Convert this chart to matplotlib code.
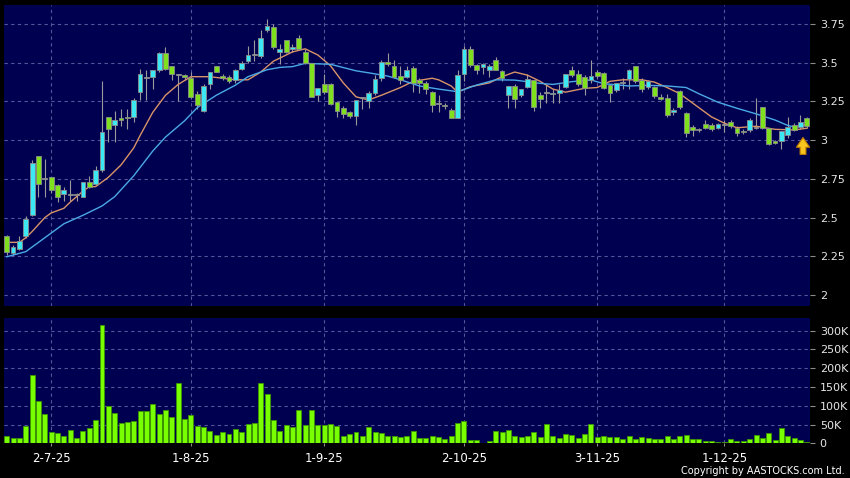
import matplotlib
matplotlib.use("Agg")
import matplotlib.pyplot as plt
import numpy as np
from matplotlib.ticker import FuncFormatter

# daily OHLC (one entry per trading day)
opens = [2.38, 2.27, 2.30, 2.38, 2.515, 2.90, 2.75, 2.76, 2.71, 2.65,
         2.645, 2.645, 2.635, 2.73, 2.72, 2.81, 3.15, 3.10, 3.14, 3.15,
         3.15, 3.31, 3.40, 3.41, 3.45, 3.56, 3.48, 3.42, 3.42, 3.40,
         3.30, 3.19, 3.36, 3.48, 3.415, 3.41, 3.39, 3.46, 3.51, 3.55,
         3.545, 3.71, 3.73, 3.57, 3.65, 3.59, 3.66, 3.57, 3.50, 3.29,
         3.36, 3.36, 3.245, 3.21, 3.18, 3.153, 3.27, 3.25, 3.306, 3.40,
         3.504, 3.48, 3.414, 3.41, 3.468, 3.39, 3.37, 3.31, 3.235, 3.228,
         3.196, 3.142, 3.43, 3.59, 3.483, 3.475, 3.455, 3.52, 3.446, 3.29,
         3.347, 3.29, 3.343, 3.386, 3.29, 3.304, 3.30, 3.304, 3.343, 3.455,
         3.43, 3.405, 3.389, 3.44, 3.435, 3.355, 3.322, 3.37, 3.397, 3.479,
         3.39, 3.345, 3.346, 3.28, 3.27, 3.184, 3.32, 3.178, 3.083, 3.066,
         3.103, 3.10, 3.081, 3.10, 3.116, 3.081, 3.062, 3.066, 3.08, 3.212,
         3.077, 2.995, 2.995, 3.034, 3.099, 3.084, 3.142]
highs = [2.39, 2.32, 2.38, 2.51, 2.87, 2.90, 2.88, 2.76, 2.72, 2.70,
         2.74, 2.66, 2.73, 2.77, 2.83, 3.38, 3.15, 3.19, 3.20, 3.20,
         3.27, 3.46, 3.45, 3.45, 3.57, 3.60, 3.48, 3.43, 3.43, 3.44,
         3.32, 3.36, 3.44, 3.48, 3.43, 3.42, 3.46, 3.51, 3.61, 3.65,
         3.71, 3.78, 3.75, 3.62, 3.65, 3.62, 3.68, 3.59, 3.50, 3.34,
         3.43, 3.37, 3.25, 3.22, 3.19, 3.26, 3.28, 3.32, 3.42, 3.515,
         3.56, 3.52, 3.48, 3.48, 3.48, 3.40, 3.38, 3.32, 3.29, 3.24,
         3.21, 3.45, 3.61, 3.61, 3.49, 3.50, 3.49, 3.54, 3.45, 3.35,
         3.36, 3.33, 3.43, 3.39, 3.31, 3.36, 3.33, 3.36, 3.43, 3.48,
         3.45, 3.42, 3.517, 3.45, 3.44, 3.36, 3.37, 3.40, 3.46, 3.48,
         3.40, 3.39, 3.35, 3.30, 3.30, 3.21, 3.325, 3.18, 3.10, 3.08,
         3.13, 3.11, 3.11, 3.13, 3.13, 3.09, 3.07, 3.14, 3.27, 3.215,
         3.08, 3.00, 3.06, 3.152, 3.11, 3.163, 3.15]
lows = [2.26, 2.26, 2.29, 2.37, 2.51, 2.63, 2.63, 2.66, 2.60, 2.61,
        2.61, 2.61, 2.63, 2.69, 2.71, 2.795, 2.99, 2.99, 3.09, 3.07,
        3.12, 3.26, 3.26, 3.33, 3.44, 3.45, 3.39, 3.25, 3.39, 3.27,
        3.20, 3.18, 3.33, 3.44, 3.39, 3.37, 3.37, 3.45, 3.50, 3.51,
        3.53, 3.70, 3.59, 3.49, 3.56, 3.57, 3.58, 3.49, 3.28, 3.25,
        3.30, 3.23, 3.15, 3.14, 3.14, 3.10, 3.20, 3.21, 3.29, 3.385,
        3.48, 3.40, 3.36, 3.40, 3.31, 3.306, 3.30, 3.18, 3.18, 3.20,
        3.14, 3.14, 3.38, 3.47, 3.43, 3.43, 3.41, 3.45, 3.38, 3.21,
        3.21, 3.28, 3.34, 3.19, 3.21, 3.24, 3.24, 3.24, 3.34, 3.41,
        3.35, 3.29, 3.37, 3.40, 3.33, 3.244, 3.31, 3.33, 3.33, 3.37,
        3.31, 3.33, 3.27, 3.26, 3.147, 3.16, 3.20, 3.02, 3.03, 3.05,
        3.07, 3.06, 3.07, 3.055, 3.08, 3.03, 3.04, 3.05, 3.07, 3.07,
        2.97, 2.975, 2.94, 3.013, 3.06, 3.07, 3.08]
closes = [2.28, 2.31, 2.35, 2.49, 2.85, 2.72, 2.75, 2.68, 2.63, 2.68,
          2.645, 2.645, 2.73, 2.70, 2.81, 3.05, 3.07, 3.13, 3.13, 3.14,
          3.26, 3.43, 3.40, 3.45, 3.56, 3.46, 3.43, 3.42, 3.41, 3.28,
          3.23, 3.35, 3.44, 3.44, 3.40, 3.38, 3.45, 3.50, 3.55, 3.55,
          3.66, 3.74, 3.60, 3.59, 3.57, 3.60, 3.59, 3.50, 3.28, 3.34,
          3.31, 3.235, 3.19, 3.17, 3.153, 3.26, 3.27, 3.306, 3.397, 3.504,
          3.49, 3.41, 3.39, 3.455, 3.37, 3.37, 3.33, 3.23, 3.235, 3.218,
          3.142, 3.418, 3.59, 3.483, 3.455, 3.49, 3.478, 3.455, 3.403, 3.347,
          3.267, 3.33, 3.392, 3.213, 3.267, 3.304, 3.305, 3.325, 3.43, 3.418,
          3.36, 3.34, 3.415, 3.417, 3.34, 3.303, 3.37, 3.37, 3.455, 3.38,
          3.329, 3.385, 3.288, 3.268, 3.16, 3.195, 3.215, 3.049, 3.066, 3.066,
          3.077, 3.07, 3.103, 3.10, 3.092, 3.045, 3.05, 3.13, 3.08, 3.077,
          2.976, 2.984, 3.062, 3.088, 3.066, 3.12, 3.092]

# volume in thousands of shares
volumes_k = [19.5, 13, 13, 45, 182, 114, 78, 31, 27, 19.5,
             35.5, 15, 33, 41, 62, 315, 99, 80, 55, 57,
             59, 86, 85, 106, 78, 89, 70, 161, 64, 75,
             46, 43, 34, 23, 30, 26, 38, 31, 51, 53,
             160, 131, 62, 34, 50, 44, 89, 50, 89, 50,
             50, 52, 47, 20, 25, 31, 20, 43, 29, 28,
             19.5, 19.5, 18, 20, 32, 15, 13, 20, 16, 11,
             20, 53, 59, 8, 8, 2, 6, 34, 30, 35.5,
             19, 17, 19.5, 29, 16, 51, 19, 14, 24, 21,
             14, 25, 51, 18, 19.5, 18, 16, 11, 19.5, 11.5,
             16, 15, 11, 11, 19.5, 11, 19.5, 23, 11, 11,
             6, 5, 4.5, 4.5, 11, 6, 6, 11, 21, 15,
             28, 9, 42, 19.5, 14, 10, 3]

# moving averages as drawn on the chart (trading-day index, price)
ma_short_x = [0, 2, 3, 4, 6, 7, 9, 10, 12, 13, 14, 16, 18, 20, 21, 23, 25, 27,
              29, 32, 36, 38, 40, 42, 45, 47, 49, 51, 53, 55, 57, 59, 62, 64,
              67, 68, 70, 71, 73, 76, 78, 80, 82, 84, 86, 88, 91, 93, 95, 97,
              100, 102, 104, 106, 108, 111, 113, 115, 118, 121, 124, 126]
ma_short_y = [2.34, 2.34, 2.37, 2.41, 2.50, 2.53, 2.56, 2.60, 2.67, 2.70, 2.70,
              2.76, 2.84, 2.95, 3.03, 3.18, 3.29, 3.36, 3.41, 3.41, 3.39, 3.39,
              3.44, 3.51, 3.57, 3.59, 3.55, 3.48, 3.37, 3.28, 3.26, 3.29, 3.34,
              3.38, 3.40, 3.39, 3.35, 3.31, 3.345, 3.37, 3.41, 3.44, 3.42, 3.38,
              3.33, 3.31, 3.335, 3.34, 3.38, 3.39, 3.39, 3.375, 3.34, 3.30, 3.24,
              3.15, 3.11, 3.08, 3.09, 3.07, 3.066, 3.077]
ma_long_x = [0, 3, 4, 7, 9, 12, 15, 17, 20, 23, 25, 28, 30, 33, 36, 38, 41, 43,
             45, 47, 51, 55, 57, 60, 62, 65, 68, 71, 74, 77, 80, 84, 86, 89, 92,
             94, 98, 101, 104, 107, 109, 112, 115, 118, 121, 123, 124, 126]
ma_long_y = [2.247, 2.28, 2.31, 2.40, 2.46, 2.515, 2.575, 2.635, 2.77, 2.93,
             3.02, 3.125, 3.21, 3.29, 3.355, 3.41, 3.455, 3.47, 3.475, 3.496,
             3.49, 3.448, 3.435, 3.414, 3.39, 3.35, 3.33, 3.313, 3.356, 3.39,
             3.388, 3.367, 3.36, 3.378, 3.389, 3.365, 3.35, 3.354, 3.35, 3.34,
             3.30, 3.245, 3.206, 3.17, 3.13, 3.095, 3.085, 3.099]

date_ticks = [7, 29, 50, 72, 93, 113]
date_labels = ["2-7-25", "1-8-25", "1-9-25", "2-10-25", "3-11-25", "1-12-25"]
price_ticks = [2.0, 2.25, 2.5, 2.75, 3.0, 3.25, 3.5, 3.75]
volume_ticks = [0, 50, 100, 150, 200, 250, 300]

PANEL = "#000050"
GRID = "#55559a"
UP = "#3de8f5"
DOWN = "#7fe01e"
DOJI = "#b4b4b4"

o = np.array(opens)
c = np.array(closes)
idx = np.arange(len(o))

fig = plt.figure(figsize=(8.5, 4.78), dpi=100, facecolor="black")
ax = fig.add_axes([4 / 850, 1 - 306 / 478, 806 / 850, 301 / 478])
axv = fig.add_axes([4 / 850, 1 - 443.3 / 478, 806 / 850, 125 / 478])

for a in (ax, axv):
    a.set_facecolor(PANEL)
    for s in a.spines.values():
        s.set_visible(False)
    a.set_xlim(-0.43, 126.5)
    a.set_xticks(date_ticks)
    a.grid(True, color=GRID, linestyle=(0, (3, 3)), linewidth=0.8)
    a.set_axisbelow(True)
    a.yaxis.tick_right()
    a.tick_params(axis="y", colors="#8c8c8c", labelcolor="#e6e6e6",
                  labelsize=8, length=3.5, width=0.8, pad=3.5)

# candles
colors = np.where(c > o, UP, np.where(c < o, DOWN, DOJI))
bottoms = np.minimum(o, c)
heights = np.maximum(np.abs(c - o), 0.006)
ax.vlines(idx, lows, highs, color="#9a9a9a", linewidth=0.8, zorder=2)
ax.plot(ma_short_x, ma_short_y, color="#d99468", linewidth=1.0, zorder=2.5)
ax.plot(ma_long_x, ma_long_y, color="#4aaae6", linewidth=1.0, zorder=2.5)
ax.bar(idx, heights, bottom=bottoms, width=0.75, color=colors,
       edgecolor="#8c8c8c", linewidth=0.6, zorder=3)

ax.set_ylim(1.929, 3.873)
ax.set_yticks(price_ticks)
ax.yaxis.set_major_formatter(FuncFormatter(lambda v, p: f"{v:g}"))
ax.tick_params(axis="x", length=0, labelbottom=False)

# marker arrow under the latest candle
last = idx[-1]
tip = min(lows[-3:]) - 0.025
ax.annotate("", xy=(last - 0.6, tip), xytext=(last - 0.6, tip - 0.145),
            arrowprops=dict(arrowstyle="simple,head_length=0.7,head_width=0.95,tail_width=0.42",
                            fc="#f7c51e", ec="#c07d00", lw=0.8),
            zorder=5)

# volume
axv.bar(idx, volumes_k, width=0.78, color="#78ff00", edgecolor="#3c9600",
        linewidth=0.6, zorder=3)
axv.set_ylim(0, 333)
axv.set_yticks(volume_ticks)
axv.yaxis.set_major_formatter(FuncFormatter(lambda v, p: "0" if v == 0 else f"{v:g}K"))
axv.set_xticklabels(date_labels)
axv.tick_params(axis="x", colors="#8c8c8c", labelcolor="white", labelsize=8.5,
                length=2.5, width=0.8, pad=4)

fig.text(845 / 850, 1 - 471 / 478, "Copyright by AASTOCKS.com Ltd.",
         ha="right", va="center", color="white", fontsize=7)

fig.savefig("out.png", dpi=100, facecolor="black")
